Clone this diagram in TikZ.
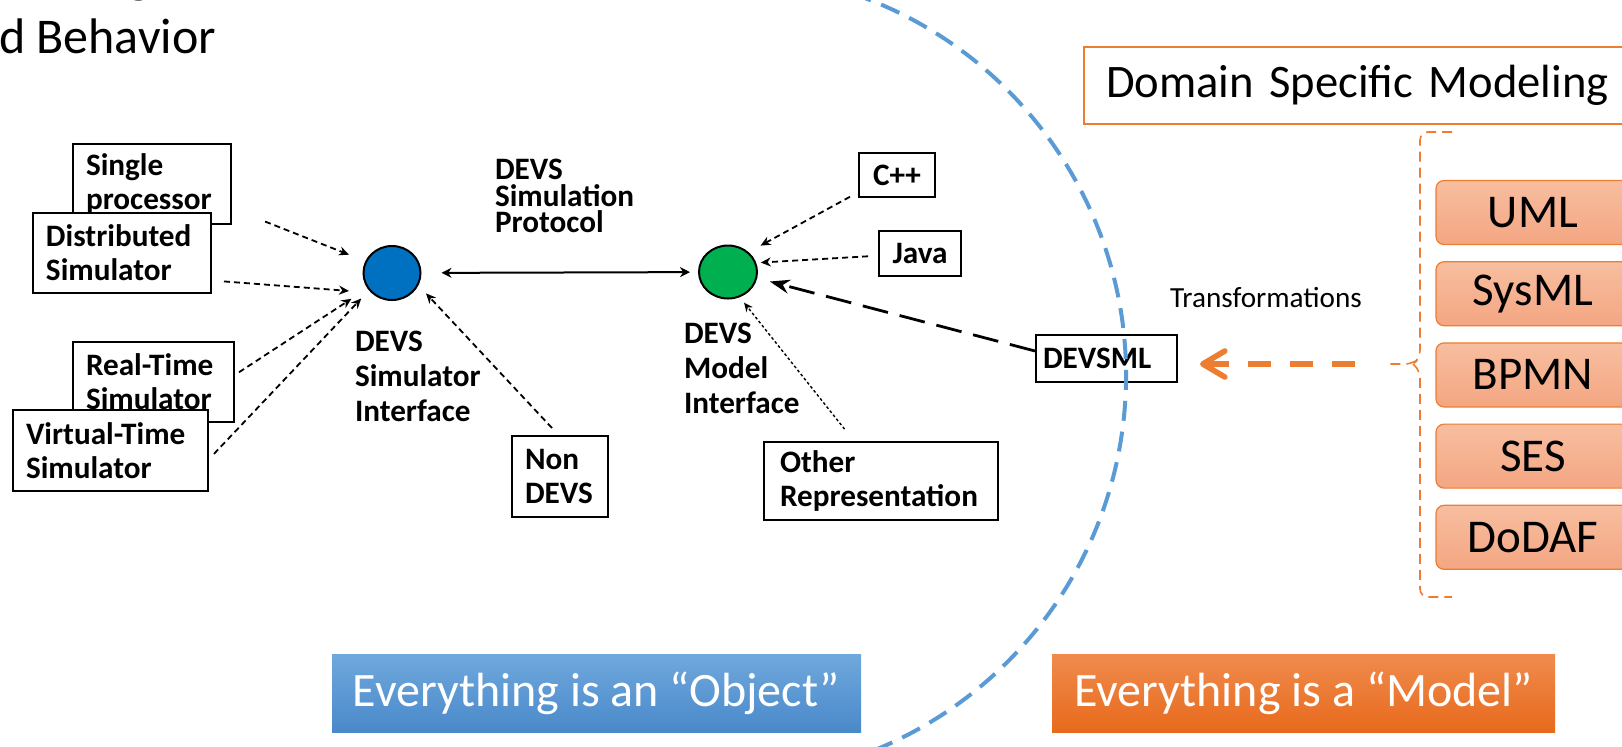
\documentclass[tikz,border=0pt]{standalone}
\usepackage{fontspec}
\setmainfont{Carlito}
\usetikzlibrary{arrows.meta,positioning,shapes.geometric}

\definecolor{simblue}{HTML}{0070C0}
\definecolor{modgreen}{HTML}{00B050}
\definecolor{arcblue}{HTML}{5B9BD5}
\definecolor{dsmorange}{HTML}{ED7D31}
\definecolor{itemtop}{HTML}{F7BEA0}
\definecolor{itembot}{HTML}{F4A682}
\definecolor{objtop}{HTML}{6FA8DC}
\definecolor{objbot}{HTML}{4A89CA}
\definecolor{modtop}{HTML}{F08B4E}
\definecolor{modbot}{HTML}{E76A1B}

\begin{document}
\begin{tikzpicture}[
  x=0.5pt, y=-0.5pt,
  >=Stealth, line width=1pt,
  simbox/.style={draw, fill=white, anchor=north west, align=left,
    inner xsep=6.5pt, inner ysep=0pt, minimum height=40pt,
    font=\fontsize{15.6}{17}\selectfont\bfseries},
  langbox/.style={draw, fill=white, anchor=north west, inner sep=0pt,
    font=\fontsize{15.6}{17}\selectfont\bfseries},
  iface/.style={ellipse, draw, inner sep=0pt},
  tag/.style={anchor=north west, align=left, inner sep=0pt,
    font=\fontsize{15.6}{17.5}\selectfont\bfseries},
  feed/.style={line width=0.9pt, dash pattern=on 3pt off 2pt,
    -{Stealth[length=5pt,width=4.5pt]}},
  thinfeed/.style={line width=0.7pt, dash pattern=on 1.4pt off 1.2pt,
    -{Stealth[length=4.5pt,width=4pt]}},
  longfeed/.style={line width=1.4pt, dash pattern=on 13pt off 6pt,
    -{Stealth[length=10pt,width=7pt]}},
  dsmitem/.style={rounded corners=4pt, draw=dsmorange, line width=0.6pt,
    top color=itemtop, bottom color=itembot, minimum width=97pt,
    minimum height=32pt, inner sep=0pt, font=\fontsize{23.5}{28}\selectfont},
  banner/.style={minimum height=39pt, inner sep=0pt, text=white,
    font=\fontsize{24}{28}\selectfont}
]
  \useasboundingbox (0,0) rectangle (1622,746);

  % Title (cut by the frame)
  \node (ttlg) [anchor=base west, inner sep=0pt, font=\fontsize{25}{29}\selectfont] at (126,-8) {g};
  \node (ttl) [anchor=base west, inner sep=0pt, font=\fontsize{25}{29}\selectfont] at (-2,53) {d Behavior};

  % Simulators
  \node (single) [simbox, text width=66pt] at (72,143) {Single\\processor};
  \node (distrib) [simbox, text width=76pt] at (32,212) {Distributed\\Simulator};
  \node (realtime) [simbox, text width=67.5pt] at (72,341) {Real-Time\\Simulator};
  \node (virtual) [simbox, text width=84.5pt, minimum height=40.5pt] at (12,409) {Virtual-Time\\Simulator};

  % Interfaces
  \node (simif) [iface, fill=simblue, minimum width=28.5pt, minimum height=27pt] at (392,273) {};
  \node (modif) [iface, fill=modgreen, minimum width=29pt, minimum height=26.5pt] at (728,272) {};
  \node (simiflbl) [tag] at (354,330) {DEVS\\Simulator\\Interface};
  \node (modiflbl) [tag] at (683,322) {DEVS\\Model\\Interface};
  \node (proto) [tag, font=\fontsize{15.6}{13.35}\selectfont\bfseries] at (494,158) {DEVS\\Simulation\\Protocol};

  % Model sources
  \node (nondevs) [simbox, text width=35pt, minimum height=40.5pt] at (511,435) {Non\\DEVS};
  \node (otherrep) [simbox, inner xsep=8pt, text width=101pt, minimum height=39pt] at (763,441) {Other\\Representation};
  \node (cpp) [langbox, minimum width=38pt, minimum height=22pt] at (858,152) {C++};
  \node (java) [langbox, minimum width=41pt, minimum height=22.5pt] at (878,230) {Java};
  \node (devsml) [langbox, align=left, text width=63.5pt, inner xsep=3.5pt, minimum height=23.5pt] at (1035,334) {DEVSML};

  % Domain specific side
  \node (dsm) [draw=dsmorange, anchor=north west, align=left, text width=272pt, inner xsep=11pt,
    inner ysep=0pt, minimum height=38.5pt, font=\fontsize{23.3}{28}\selectfont] at (1083,46) {\mbox{Domain Specific Modeling}};
  \node (uml) [dsmitem] at (1533,212.5) {UML};
  \node (sysml) [dsmitem, below=8pt of uml] {SysML};
  \node (bpmn) [dsmitem, below=8pt of sysml] {BPMN};
  \node (ses) [dsmitem, below=8pt of bpmn] {SES};
  \node (dodaf) [dsmitem, below=8pt of ses] {DoDAF};
  \node (trans) [anchor=base west, inner sep=0pt, font=\fontsize{14.6}{17}\selectfont] at (1169,307) {Transformations};

  % Bottom banners
  \node (objbanner) [banner, top color=objtop, bottom color=objbot, minimum width=264.5pt] at (596.5,693) {Everything is an “Object”};
  \node (modbanner) [banner, top color=modtop, bottom color=modbot, minimum width=251.5pt] at (1303.5,693) {Everything is a “Model”};

  % Arrows into the simulator interface
  \draw[feed, shorten <=17.8pt, shorten >=8.75pt] (single.-17) -- (simif.156);
  \draw[feed, shorten <=6pt, shorten >=11pt] (distrib.-17) -- (simif.223);
  \draw[feed, shorten <=2.4pt, shorten >=9.5pt] (realtime.5) -- (simif.212);
  \draw[feed, shorten <=3.6pt, shorten >=5.6pt] (virtual.-5) -- (simif.217);
  \draw[feed, shorten <=4.8pt, shorten >=5.5pt] (nondevs.92) -- (simif.-25);
  \draw[{Stealth[length=5pt,width=5pt]}-{Stealth[length=5pt,width=5pt]}, shorten <=10pt, shorten >=4pt] (simif) -- (modif);

  % Arrows into the model interface
  \draw[feed, shorten <=4.6pt, shorten >=6.75pt] (cpp.204) -- (modif.44);
  \draw[feed, shorten <=5pt, shorten >=2.25pt] (java.183) -- (modif.18);
  \draw[thinfeed, shorten <=7.6pt, shorten >=3.4pt] (otherrep.124) -- (modif.-65);
  \draw[longfeed, shorten >=6.5pt] (devsml.174) -- (modif.-12);

  % Brace and transformation arrow
  \coordinate (bracetip) at (1388,364);
  \draw[dsmorange, line width=0.8pt, dash pattern=on 5pt off 3pt, rounded corners=4pt]
    (1452,132) -- (1420,132) -- (1420,358) -- (1413,364) -- (bracetip);
  \draw[dsmorange, line width=0.8pt, dash pattern=on 5pt off 3pt, rounded corners=4pt]
    (1413,364) -- (1420,370) -- (1420,597) -- (1452,597);
  \draw[dsmorange, line width=2.8pt, dash pattern=on 11.5pt off 9.5pt, shorten <=16.5pt, shorten >=11pt,
    -{Straight Barb[length=11pt,width=13pt,round]}] (bracetip) -- (devsml.east |- bracetip);

  % Object / model boundary
  \draw[arcblue, line width=2pt, dash pattern=on 10pt off 5.5pt]
    (722,376) ++(-80:404) arc[start angle=-80, end angle=80, radius=404];
\end{tikzpicture}
\end{document}
